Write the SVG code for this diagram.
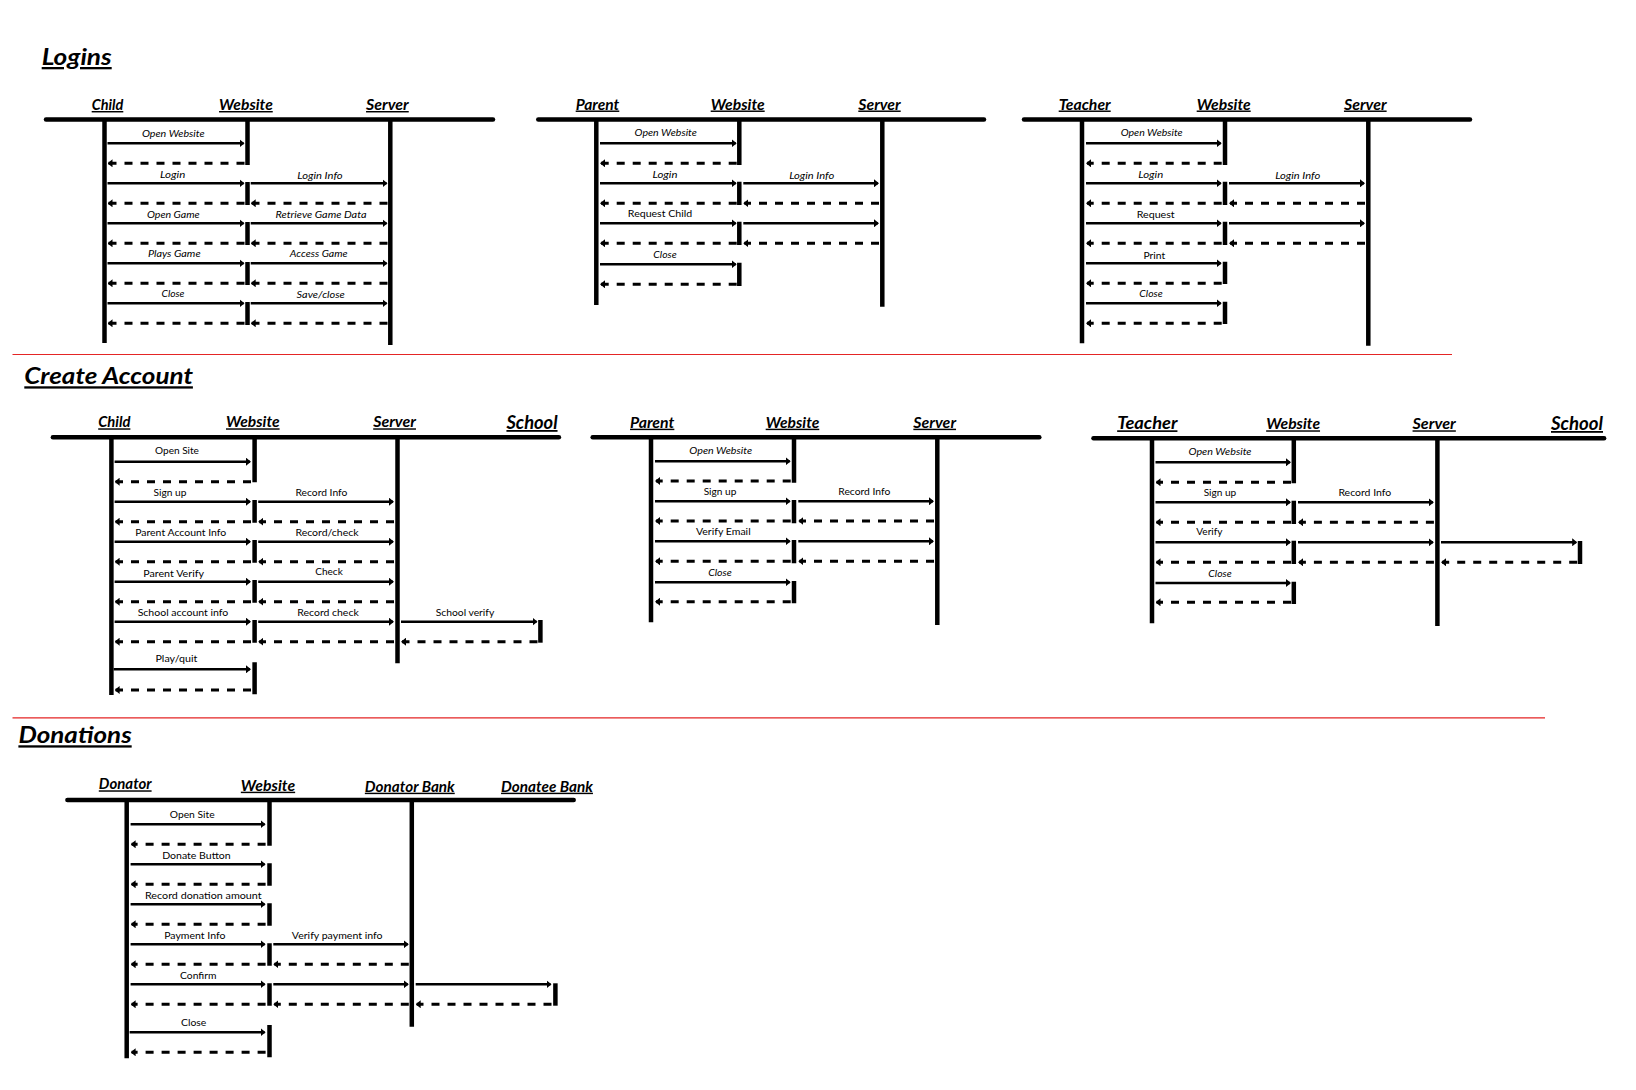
<svg xmlns="http://www.w3.org/2000/svg" width="1636" height="1090" viewBox="0 0 1636 1090">
<defs>
<marker id="ah" viewBox="0 0 5 8" refX="4" refY="4" markerWidth="5" markerHeight="8" orient="auto" markerUnits="userSpaceOnUse"><path d="M0,0 L5,4 L0,8 z" fill="#000"/></marker>
<style>
.hd{stroke:#000;stroke-width:4.5;stroke-linecap:round}
.ll{stroke:#000;stroke-width:4.5}
.m{stroke:#000;stroke-width:2.5;fill:none;marker-end:url(#ah)}
.r{stroke:#000;stroke-width:3;stroke-dasharray:8 8;fill:none;marker-end:url(#ah)}
.red{stroke:#e42525;stroke-width:1.2}
text{font-family:Lato,"Open Sans","Liberation Sans",sans-serif;fill:#000}
.l{font-size:10px;text-anchor:middle}
.i{font-style:italic}
.a{font-size:14.5px;font-weight:bold;font-style:italic;text-decoration:underline;text-anchor:middle}
.ab{font-size:18px}
.t{font-size:23px;font-weight:bold;font-style:italic;text-decoration:underline}
</style>
</defs>

<!-- Section titles and separators -->
<text class="t" x="41.7" y="65" textLength="70" lengthAdjust="spacingAndGlyphs">Logins</text>
<line class="red" x1="12.5" y1="354.5" x2="1452" y2="354.5"/>
<text class="t" x="24.3" y="384.3" textLength="168.6" lengthAdjust="spacingAndGlyphs">Create Account</text>
<line class="red" x1="12.5" y1="717.8" x2="1545" y2="717.8"/>
<text class="t" x="18.4" y="743.3" textLength="113.3" lengthAdjust="spacingAndGlyphs">Donations</text>

<!-- ===== Logins: Child ===== -->
<g id="login-child">
<line class="hd" x1="46" y1="119.5" x2="493" y2="119.5"/>
<text class="a" x="107.5" y="110" textLength="31.6" lengthAdjust="spacingAndGlyphs">Child</text>
<text class="a" x="245.9" y="110" textLength="53.7" lengthAdjust="spacingAndGlyphs">Website</text>
<text class="a" x="387.4" y="110" textLength="42.7" lengthAdjust="spacingAndGlyphs">Server</text>
<line class="ll" x1="104.5" y1="119.5" x2="104.5" y2="343"/>
<path class="ll" d="M247.5,119.5V165M247.5,182V205M247.5,222V245M247.5,262V285M247.5,302V325"/>
<line class="ll" x1="390.3" y1="119.5" x2="390.3" y2="345"/>
<text class="l i" x="173.3" y="136.7" textLength="62.7" lengthAdjust="spacingAndGlyphs">Open Website</text>
<text class="l i" x="172.7" y="178.3" textLength="25.3" lengthAdjust="spacingAndGlyphs">Login</text>
<text class="l i" x="320" y="179" textLength="45.3" lengthAdjust="spacingAndGlyphs">Login Info</text>
<text class="l i" x="173.3" y="218.3" textLength="52.7" lengthAdjust="spacingAndGlyphs">Open Game</text>
<text class="l i" x="321" y="218.3" textLength="91" lengthAdjust="spacingAndGlyphs">Retrieve Game Data</text>
<text class="l i" x="174.3" y="257.3" textLength="52.7" lengthAdjust="spacingAndGlyphs">Plays Game</text>
<text class="l i" x="318.7" y="257.3" textLength="57.7" lengthAdjust="spacingAndGlyphs">Access Game</text>
<text class="l i" x="173" y="297.3" textLength="23" lengthAdjust="spacingAndGlyphs">Close</text>
<text class="l i" x="320.7" y="298.3" textLength="48.3" lengthAdjust="spacingAndGlyphs">Save/close</text>
</g>

<!-- ===== Logins: Parent ===== -->
<g id="login-parent">
<line class="hd" x1="538.3" y1="119.5" x2="984" y2="119.5"/>
<text class="a" x="597.5" y="109.5" textLength="43.6" lengthAdjust="spacingAndGlyphs">Parent</text>
<text class="a" x="737.7" y="109.5" textLength="54" lengthAdjust="spacingAndGlyphs">Website</text>
<text class="a" x="879.5" y="109.5" textLength="42.4" lengthAdjust="spacingAndGlyphs">Server</text>
<line class="ll" x1="596.3" y1="119.5" x2="596.3" y2="305"/>
<path class="ll" d="M739.3,119.5V165M739.3,181.7V205M739.3,221.7V245M739.3,262.7V286"/>
<line class="ll" x1="882.3" y1="119.5" x2="882.3" y2="306.7"/>
<text class="l i" x="665.7" y="136" textLength="62.3" lengthAdjust="spacingAndGlyphs">Open Website</text>
<text class="l i" x="665" y="178.3" textLength="25" lengthAdjust="spacingAndGlyphs">Login</text>
<text class="l i" x="811.7" y="179.3" textLength="45" lengthAdjust="spacingAndGlyphs">Login Info</text>
<text class="l" x="660" y="216.7" textLength="64.3" lengthAdjust="spacingAndGlyphs">Request Child</text>
<text class="l i" x="665" y="258.3" textLength="23.3" lengthAdjust="spacingAndGlyphs">Close</text>
</g>

<!-- ===== Logins: Teacher ===== -->
<g id="login-teacher">
<line class="hd" x1="1024" y1="119.5" x2="1470" y2="119.5"/>
<text class="a" x="1084.7" y="109.5" textLength="52" lengthAdjust="spacingAndGlyphs">Teacher</text>
<text class="a" x="1223.7" y="109.5" textLength="54" lengthAdjust="spacingAndGlyphs">Website</text>
<text class="a" x="1365.3" y="109.5" textLength="42.7" lengthAdjust="spacingAndGlyphs">Server</text>
<line class="ll" x1="1082" y1="119.5" x2="1082" y2="343.3"/>
<path class="ll" d="M1225,119.5V165M1225,181.7V205M1225,221.7V245M1225,261.7V284M1225,301.7V324"/>
<line class="ll" x1="1368.3" y1="119.5" x2="1368.3" y2="345.7"/>
<text class="l i" x="1151.7" y="136" textLength="62" lengthAdjust="spacingAndGlyphs">Open Website</text>
<text class="l i" x="1150.7" y="178.3" textLength="25" lengthAdjust="spacingAndGlyphs">Login</text>
<text class="l i" x="1297.7" y="179.3" textLength="45" lengthAdjust="spacingAndGlyphs">Login Info</text>
<text class="l" x="1155.7" y="217.7" textLength="38" lengthAdjust="spacingAndGlyphs">Request</text>
<text class="l" x="1154.3" y="259" textLength="21.7" lengthAdjust="spacingAndGlyphs">Print</text>
<text class="l i" x="1151" y="297.3" textLength="23.3" lengthAdjust="spacingAndGlyphs">Close</text>
</g>

<!-- ===== Create Account: Child ===== -->
<g id="create-child">
<line class="hd" x1="52.9" y1="437.3" x2="558.9" y2="437.3"/>
<text class="a" x="114.3" y="427.3" textLength="32.2" lengthAdjust="spacingAndGlyphs">Child</text>
<text class="a" x="252.8" y="427.3" textLength="53.6" lengthAdjust="spacingAndGlyphs">Website</text>
<text class="a" x="394.6" y="427.3" textLength="42.8" lengthAdjust="spacingAndGlyphs">Server</text>
<text class="a ab" x="532" y="429" textLength="51.1" lengthAdjust="spacingAndGlyphs">School</text>
<line class="ll" x1="111.4" y1="437.3" x2="111.4" y2="695"/>
<path class="ll" d="M254.6,437.3V482.3M254.6,500V522.7M254.6,540V562.7M254.6,580V602.7M254.6,620V642.7M254.6,662.3V694.3"/>
<line class="ll" x1="397.5" y1="437.3" x2="397.5" y2="663.3"/>
<line class="ll" x1="540.4" y1="620" x2="540.4" y2="642.7"/>
<text class="l" x="177" y="454.3" textLength="43.9" lengthAdjust="spacingAndGlyphs">Open Site</text>
<text class="l" x="170" y="496" textLength="32.9" lengthAdjust="spacingAndGlyphs">Sign up</text>
<text class="l" x="321.4" y="496" textLength="51.8" lengthAdjust="spacingAndGlyphs">Record Info</text>
<text class="l" x="180.7" y="535.7" textLength="91" lengthAdjust="spacingAndGlyphs">Parent Account Info</text>
<text class="l" x="327" y="535.7" textLength="63.2" lengthAdjust="spacingAndGlyphs">Record/check</text>
<text class="l" x="173.6" y="576.7" textLength="60.7" lengthAdjust="spacingAndGlyphs">Parent Verify</text>
<text class="l" x="329" y="575" textLength="27.5" lengthAdjust="spacingAndGlyphs">Check</text>
<text class="l" x="183" y="615.7" textLength="90.7" lengthAdjust="spacingAndGlyphs">School account info</text>
<text class="l" x="328" y="615.7" textLength="61.4" lengthAdjust="spacingAndGlyphs">Record check</text>
<text class="l" x="465" y="615.7" textLength="58.6" lengthAdjust="spacingAndGlyphs">School verify</text>
<text class="l" x="176.4" y="661.7" textLength="41.8" lengthAdjust="spacingAndGlyphs">Play/quit</text>
</g>

<!-- ===== Create Account: Parent ===== -->
<g id="create-parent">
<line class="hd" x1="592.7" y1="437.3" x2="1039.3" y2="437.3"/>
<text class="a" x="652.2" y="427.7" textLength="44.3" lengthAdjust="spacingAndGlyphs">Parent</text>
<text class="a" x="792.5" y="427.7" textLength="53.6" lengthAdjust="spacingAndGlyphs">Website</text>
<text class="a" x="934.7" y="427.7" textLength="42.7" lengthAdjust="spacingAndGlyphs">Server</text>
<line class="ll" x1="651" y1="437.3" x2="651" y2="622.3"/>
<path class="ll" d="M794,437.3V482.7M794,500V523.3M794,540V563.3M794,581V603.3"/>
<line class="ll" x1="937.3" y1="437.3" x2="937.3" y2="625"/>
<text class="l i" x="720.7" y="454.3" textLength="62.7" lengthAdjust="spacingAndGlyphs">Open Website</text>
<text class="l" x="720" y="495" textLength="32.7" lengthAdjust="spacingAndGlyphs">Sign up</text>
<text class="l" x="864.3" y="495" textLength="52" lengthAdjust="spacingAndGlyphs">Record Info</text>
<text class="l" x="723.3" y="534.7" textLength="54.7" lengthAdjust="spacingAndGlyphs">Verify Email</text>
<text class="l i" x="720" y="576" textLength="23.7" lengthAdjust="spacingAndGlyphs">Close</text>
</g>

<!-- ===== Create Account: Teacher ===== -->
<g id="create-teacher">
<line class="hd" x1="1093.5" y1="438.3" x2="1604.1" y2="438.3"/>
<text class="a" x="1147.3" y="429.3" textLength="60.3" lengthAdjust="spacingAndGlyphs" style="font-size:16.5px">Teacher</text>
<text class="a" x="1293.1" y="429.3" textLength="53.9" lengthAdjust="spacingAndGlyphs">Website</text>
<text class="a" x="1434.2" y="429.3" textLength="43.3" lengthAdjust="spacingAndGlyphs">Server</text>
<text class="a ab" x="1577" y="430" textLength="52" lengthAdjust="spacingAndGlyphs">School</text>
<line class="ll" x1="1152" y1="438.3" x2="1152" y2="623.3"/>
<path class="ll" d="M1293.8,438.3V483.3M1293.8,500.7V524M1293.8,540.7V564M1293.8,581.7V604"/>
<line class="ll" x1="1437.4" y1="438.3" x2="1437.4" y2="626"/>
<line class="ll" x1="1580" y1="541" x2="1580" y2="564"/>
<text class="l i" x="1220" y="455" textLength="63" lengthAdjust="spacingAndGlyphs">Open Website</text>
<text class="l" x="1220" y="496" textLength="32.6" lengthAdjust="spacingAndGlyphs">Sign up</text>
<text class="l" x="1364.8" y="496" textLength="52.8" lengthAdjust="spacingAndGlyphs">Record Info</text>
<text class="l" x="1209.4" y="535" textLength="26.2" lengthAdjust="spacingAndGlyphs">Verify</text>
<text class="l i" x="1220" y="576.7" textLength="23.4" lengthAdjust="spacingAndGlyphs">Close</text>
</g>

<!-- ===== Donations ===== -->
<g id="donations">
<line class="hd" x1="67.4" y1="800" x2="573.7" y2="800"/>
<text class="a" x="125.2" y="789.3" textLength="52.8" lengthAdjust="spacingAndGlyphs">Donator</text>
<text class="a" x="268" y="790.7" textLength="54.3" lengthAdjust="spacingAndGlyphs">Website</text>
<text class="a" x="409.8" y="791.7" textLength="89.9" lengthAdjust="spacingAndGlyphs">Donator Bank</text>
<text class="a" x="547" y="791.7" textLength="91.9" lengthAdjust="spacingAndGlyphs">Donatee Bank</text>
<line class="ll" x1="126.7" y1="800" x2="126.7" y2="1058.3"/>
<path class="ll" d="M269.5,800V845.7M269.5,863.3V885.7M269.5,903.3V925.7M269.5,943.3V965.7M269.5,983.3V1005.7M269.5,1025V1057.3"/>
<line class="ll" x1="411.8" y1="800" x2="411.8" y2="1026.7"/>
<line class="ll" x1="555.4" y1="983.3" x2="555.4" y2="1005.7"/>
<text class="l" x="192.2" y="817.7" textLength="44.8" lengthAdjust="spacingAndGlyphs">Open Site</text>
<text class="l" x="196.4" y="859.3" textLength="68.5" lengthAdjust="spacingAndGlyphs">Donate Button</text>
<text class="l" x="203.3" y="898.7" textLength="116.7" lengthAdjust="spacingAndGlyphs">Record donation amount</text>
<text class="l" x="194.8" y="938.7" textLength="61.2" lengthAdjust="spacingAndGlyphs">Payment Info</text>
<text class="l" x="337.2" y="939.3" textLength="90.7" lengthAdjust="spacingAndGlyphs">Verify payment info</text>
<text class="l" x="198.3" y="978.7" textLength="36.4" lengthAdjust="spacingAndGlyphs">Confirm</text>
<text class="l" x="193.7" y="1025.7" textLength="25.3" lengthAdjust="spacingAndGlyphs">Close</text>
</g>

<!-- ===== Connectors ===== -->
<g id="connectors">
<!-- Logins Child -->
<path class="m" d="M107.5,143.3H243.5"/>
<path class="r" d="M244.5,163.3H108.5"/>
<path class="m" d="M107.5,183.3H243.5"/><path class="m" d="M250.7,183.3H386.5"/>
<path class="r" d="M244.5,203.3H108.5"/><path class="r" d="M387.5,203.3H251.7"/>
<path class="m" d="M107.5,223.3H243.5"/><path class="m" d="M250.7,223.3H386.5"/>
<path class="r" d="M244.5,243.3H108.5"/><path class="r" d="M387.5,243.3H251.7"/>
<path class="m" d="M107.5,263.3H243.5"/><path class="m" d="M250.7,263.3H386.5"/>
<path class="r" d="M244.5,283.3H108.5"/><path class="r" d="M387.5,283.3H251.7"/>
<path class="m" d="M107.5,303.3H243.5"/><path class="m" d="M250.7,303.3H386.5"/>
<path class="r" d="M244.5,323.3H108.5"/><path class="r" d="M387.5,323.3H251.7"/>
<!-- Logins Parent -->
<path class="m" d="M600,143.3H735.7"/>
<path class="r" d="M736.7,163.3H601"/>
<path class="m" d="M600,183.3H735.7"/><path class="m" d="M743.3,183.3H878"/>
<path class="r" d="M736.7,203.3H601"/><path class="r" d="M879,203.3H744.3"/>
<path class="m" d="M600,223.3H735.7"/><path class="m" d="M743.3,223.3H878"/>
<path class="r" d="M736.7,243.3H601"/><path class="r" d="M879,243.3H744.3"/>
<path class="m" d="M600,264.3H735.7"/>
<path class="r" d="M736.7,284.3H601"/>
<!-- Logins Teacher -->
<path class="m" d="M1086,143.3H1220.7"/>
<path class="r" d="M1221.7,163.3H1087"/>
<path class="m" d="M1086,183.3H1220.7"/><path class="m" d="M1229,183.3H1364"/>
<path class="r" d="M1221.7,203.3H1087"/><path class="r" d="M1365,203.3H1230"/>
<path class="m" d="M1086,223.3H1220.7"/><path class="m" d="M1229,223.3H1364"/>
<path class="r" d="M1221.7,243.3H1087"/><path class="r" d="M1365,243.3H1230"/>
<path class="m" d="M1086,263.3H1220.7"/>
<path class="r" d="M1221.7,283.3H1087"/>
<path class="m" d="M1086,303.3H1220.7"/>
<path class="r" d="M1221.7,323.3H1087"/>
<!-- Create Child -->
<path class="m" d="M114.6,461.7H250"/>
<path class="r" d="M251,481.7H115.6"/>
<path class="m" d="M114.6,501.7H250"/><path class="m" d="M258.2,501.7H393"/>
<path class="r" d="M251,521.7H115.6"/><path class="r" d="M394,521.7H259.2"/>
<path class="m" d="M114.6,541.7H250"/><path class="m" d="M258.2,541.7H393"/>
<path class="r" d="M251,561.7H115.6"/><path class="r" d="M394,561.7H259.2"/>
<path class="m" d="M114.6,581.7H250"/><path class="m" d="M258.2,581.7H393"/>
<path class="r" d="M251,601.7H115.6"/><path class="r" d="M394,601.7H259.2"/>
<path class="m" d="M114.6,621.7H250"/><path class="m" d="M258.2,621.7H393"/><path class="m" d="M401,621.7H536.5"/>
<path class="r" d="M251,641.7H115.6"/><path class="r" d="M394,641.7H259.2"/><path class="r" d="M537.5,641.7H402"/>
<path class="m" d="M113.6,669.3H250"/>
<path class="r" d="M251,690H115.6"/>
<!-- Create Parent -->
<path class="m" d="M655,461.3H789.7"/>
<path class="r" d="M790.7,481H656"/>
<path class="m" d="M655,501.3H789.7"/><path class="m" d="M798.3,501.3H933"/>
<path class="r" d="M790.7,521H656"/><path class="r" d="M934,521H799.3"/>
<path class="m" d="M655,541.3H789.7"/><path class="m" d="M798.3,541.3H933"/>
<path class="r" d="M790.7,561.3H656"/><path class="r" d="M934,561.3H799.3"/>
<path class="m" d="M655,582.3H789.7"/>
<path class="r" d="M790.7,601.7H656"/>
<!-- Create Teacher -->
<path class="m" d="M1155.5,462.3H1290"/>
<path class="r" d="M1291,482.3H1156.5"/>
<path class="m" d="M1155.5,502.3H1290"/><path class="m" d="M1298,502.3H1432.9"/>
<path class="r" d="M1291,522.3H1156.5"/><path class="r" d="M1433.9,522.3H1299"/>
<path class="m" d="M1155.5,542.3H1290"/><path class="m" d="M1298,542.3H1432.9"/><path class="m" d="M1441,542.3H1576.2"/>
<path class="r" d="M1291,562.3H1156.5"/><path class="r" d="M1433.9,562.3H1299"/><path class="r" d="M1577.2,562.3H1442"/>
<path class="m" d="M1155.5,583H1290"/>
<path class="r" d="M1291,602.3H1156.5"/>
<!-- Donations -->
<path class="m" d="M130.6,824.3H264.6"/>
<path class="r" d="M265.6,844.3H131.6"/>
<path class="m" d="M130.6,864.3H264.6"/>
<path class="r" d="M265.6,884.3H131.6"/>
<path class="m" d="M130.6,904.3H264.6"/>
<path class="r" d="M265.6,924.3H131.6"/>
<path class="m" d="M130.6,944.3H264.6"/><path class="m" d="M273.3,944.3H407.8"/>
<path class="r" d="M265.6,964.3H131.6"/><path class="r" d="M408.8,964.3H274.3"/>
<path class="m" d="M130.6,984.3H264.6"/><path class="m" d="M273.3,984.3H407.8"/><path class="m" d="M415.7,984.3H550.5"/>
<path class="r" d="M265.6,1004.3H131.6"/><path class="r" d="M408.8,1004.3H274.3"/><path class="r" d="M551.5,1004.3H416.7"/>
<path class="m" d="M129.6,1032.3H264.6"/>
<path class="r" d="M265.6,1052.3H131.6"/>
</g>
</svg>
